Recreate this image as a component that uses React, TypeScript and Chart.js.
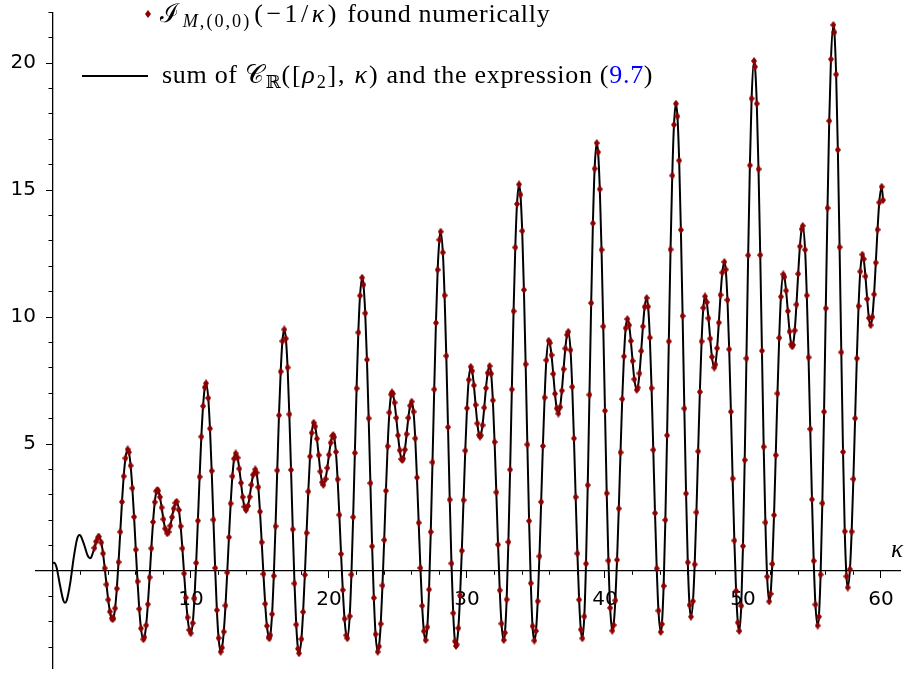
import React, { useEffect, useRef } from "react";
import { Chart, registerables } from "chart.js";

Chart.register(...registerables);

// Numerically found values, read on a kappa grid 3.00, 3.25, ..., 60.00
const KAPPA_START = 3;
const KAPPA_STEP = 0.25;
const numericValues = [
  0.91, 1.32, 1.12, 0.11, -1.13, -1.86, -1.47, 0.35, // 3.00 - 4.75
  2.72, 4.44, 4.68, 3.26, 0.84, -1.49, -2.66, -2.14, // 5.00 - 6.75
  -0.25, 1.93, 3.14, 2.91, 2.04, 1.49, 1.78, 2.46, // 7.00 - 8.75
  2.71, 1.76, -0.1, -1.83, -2.45, -1.08, 1.98, 5.29, // 9.00 - 10.75
  7.23, 6.81, 3.94, 0.12, -2.64, -3.02, -1.36, 1.33, // 11.00 - 12.75
  3.73, 4.63, 4.03, 2.91, 2.4, 2.92, 3.79, 3.87, // 13.00 - 14.75
  2.34, -0.12, -2.16, -2.53, -0.19, 3.96, 7.85, 9.51, // 15.00 - 16.75
  8.01, 3.98, -0.49, -3.06, -2.68, -0.15, 3.13, 5.44, // 17.00 - 18.75
  5.69, 4.56, 3.49, 3.62, 4.58, 5.31, 4.69, 2.21, // 19.00 - 20.75
  -0.75, -2.53, -1.78, 2.12, 7.19, 10.84, 11.27, 8.32, // 21.00 - 22.75
  3.46, -1.06, -3.15, -2.08, 1.22, 4.91, 6.95, 6.63, // 23.00 - 24.75
  5.34, 4.41, 4.78, 6.03, 6.67, 5.22, 1.9, -1.37, // 25.00 - 26.75
  -2.72, -0.73, 4.28, 9.77, 13.04, 12.54, 8.47, 2.81, // 27.00 - 28.75
  -1.66, -2.89, -0.96, 2.79, 6.41, 8.03, 7.31, 5.81, // 29.00 - 30.75
  5.34, 6.43, 7.8, 7.77, 5.08, 1.04, -2.07, -2.43, // 31.00 - 32.75
  1.14, 7.15, 12.74, 15.2, 13.39, 8.14, 1.97, -2.17, // 33.00 - 34.75
  -2.36, 0.58, 4.92, 8.3, 8.98, 7.76, 6.4, 6.45, // 35.00 - 36.75
  7.95, 9.3, 8.7, 5.22, 0.69, -2.31, -1.79, 3.38, // 37.00 - 38.75
  10.55, 15.84, 16.49, 12.65, 6.31, 0.41, -2.35, -1.16, // 39.00 - 40.75
  2.46, 6.77, 9.56, 9.68, 8.27, 7.17, 7.78, 9.63, // 41.00 - 42.75
  10.74, 9.19, 4.77, 0.1, -2.35, -0.59, 5.34, 12.66, // 43.00 - 44.75
  17.57, 17.9, 13.43, 6.4, 0.34, -1.8, 0.26, 4.71, // 45.00 - 46.75
  9.04, 10.81, 9.95, 8.43, 8.13, 9.78, 11.75, 11.87, // 47.00 - 48.75
  8.73, 3.64, -0.78, -2.36, 0.98, 8.37, 15.97, 19.97, // 49.00 - 50.75
  18.4, 12.44, 4.89, -0.22, -0.9, 2.2, 6.99, 10.8, // 51.00 - 52.75
  11.58, 10.23, 8.92, 9.47, 11.7, 13.46, 12.65, 8.41, // 53.00 - 54.75
  2.82, -1.32, -1.8, 2.67, 10.34, 17.72, 21.38, 19.55, // 55.00 - 56.75
  12.75, 4.69, -0.21, 0.07, 3.62, 8.37, 11.79, 12.28, // 57.00 - 58.75
  10.71, 9.68, 10.89, 13.44, 15.08, // 59.00 - 60.00
];

// Numerically found values in between: kappa = 3.125, 3.375, ..., 59.875
const MID_START = 3.125;
const numericValuesMid = [
  1.16, 1.33, 0.69, -0.53, // 3.x
  -1.6, -1.86, -0.69, 1.54, // 4.x
  3.73, 4.77, 4.15, 2.13, // 5.x
  -0.41, -2.26, -2.61, -1.31, // 6.x
  0.89, 2.71, 3.16, 2.5, // 7.x
  1.67, 1.54, 2.12, 2.68, // 8.x
  2.4, 0.89, -1.05, -2.32, // 9.x
  -2.05, 0.32, 3.71, 6.49, // 10.x
  7.36, 5.61, 2.02, -1.54, // 11.x
  -3.17, -2.39, -0.06, 2.66, // 12.x
  4.42, 4.46, 3.47, 2.53, // 13.x
  2.56, 3.39, 3.99, 3.3, // 14.x
  1.13, -1.29, -2.6, -1.7, // 15.x
  1.76, 6.13, 9.05, 9.15, // 16.x
  6.17, 1.64, -2.11, -3.2, // 17.x
  -1.61, 1.5, 4.51, 5.84, // 18.x
  5.21, 3.92, 3.4, 4.06, // 19.x
  5.05, 5.27, 3.61, 0.67, // 20.x
  -1.88, -2.59, -0.14, 4.65, // 21.x
  9.39, 11.53, 10.15, 6.01, // 22.x
  0.97, -2.49, -2.97, -0.57, // 23.x
  3.16, 6.24, 6.98, 6.03, // 24.x
  4.75, 4.42, 5.39, 6.51, // 25.x
  6.27, 3.68, 0.12, -2.37, // 26.x
  -2.21, 1.54, 7.15, 11.86, // 27.x
  13.31, 10.85, 5.66, 0.3, // 28.x
  -2.77, -2.25, 0.8, 4.74, // 29.x
  7.53, 7.88, 6.54, 5.35, // 30.x
  5.74, 7.2, 8.07, 6.72, // 31.x
  3.1, -0.76, -2.69, -1.12, // 32.x
  3.99, 10.23, 14.45, 14.82, // 33.x
  11.07, 4.98, -0.48, -2.74, // 34.x
  -1.19, 2.72, 6.83, 9.01, // 35.x
  8.5, 6.98, 6.2, 7.1, // 36.x
  8.76, 9.38, 7.25, 2.91, // 37.x
  -1.13, -2.64, 0.29, 6.94, // 38.x
  13.69, 16.83, 15.03, 9.63, // 39.x
  3.06, -1.45, -2.13, 0.44, // 40.x
  4.67, 8.45, 9.92, 9.06, // 41.x
  7.55, 7.22, 8.66, 10.4, // 42.x
  10.41, 7.2, 2.28, -1.56, // 43.x
  -2.09, 2.01, 9.04, 15.57, // 44.x
  18.39, 16.16, 10.04, 3.05, // 45.x
  -1.34, -1.19, 2.31, 7.05, // 46.x
  10.36, 10.58, 9.15, 8.04, // 47.x
  8.77, 10.87, 12.16, 10.67, // 48.x
  6.27, 1.2, -2.03, -1.37, // 49.x
  4.37, 12.43, 18.6, 19.85, // 50.x
  15.82, 8.67, 1.91, -1.18, // 51.x
  0.28, 4.56, 9.18, 11.62, // 52.x
  11.04, 9.43, 8.9, 10.49, // 53.x
  12.78, 13.53, 10.85, 5.59, // 54.x
  0.4, -2.1, -0.14, 6.27, // 55.x
  14.29, 20.15, 21.21, 16.58, // 56.x
  8.61, 1.56, -0.61, 1.55, // 57.x
  6.01, 10.43, 12.45, 11.6, // 58.x
  9.96, 10.0, 12.14, 14.51, // 59.x
];

// Peaks, dips and troughs
const extremaKappa = [
  3.33, 4.32, 5.41, 6.55, 7.56, 8.28, 8.96, 9.98, 11.09, 12.15, 13.24, 13.99,
  14.66, 15.68, 16.76, 17.83, 18.89, 19.59, 20.31, 21.33, 22.4, 23.53, 24.56,
  25.31, 25.99, 27.0, 28.09, 29.2, 30.27, 30.94, 31.64, 32.66, 33.77, 34.88,
  35.92, 36.62, 37.34, 38.36, 39.4, 40.53, 41.62, 42.3, 43.02, 44.04, 45.14,
  46.23, 47.25, 47.92, 48.65, 49.73, 50.8, 51.9, 52.92, 53.57, 54.33, 55.41,
  56.55, 57.59, 58.65, 59.25, 60.05,
];
const extremaValues = [
  1.35, -1.9, 4.79, -2.69, 3.19, 1.48, 2.73, -2.45, 7.39, -3.18, 4.63, 2.4,
  4.0, -2.65, 9.51, -3.24, 5.84, 3.39, 5.35, -2.65, 11.55, -3.18, 7.03,
  4.37, 6.67, -2.72, 13.36, -2.95, 8.04, 5.29, 8.07, -2.72, 15.22, -2.74,
  9.07, 6.2, 9.42, -2.65, 16.85, -2.35, 9.92, 7.13, 10.75, -2.4, 18.4,
  -1.8, 10.81, 8.01, 12.17, -2.36, 20.08, -1.2, 11.68, 8.84, 13.59, -2.15,
  21.5, -0.65, 12.46, 9.68, 15.13,
];

// last sample after the final peak
const tailKappa = [60.15];
const tailValues = [14.6];

// start of the black curve (before the numerical points begin)
const curveStartKappa = [0, 0.08, 0.25, 0.5, 0.75, 0.87, 1.0, 1.25, 1.5, 1.75, 1.91, 2.0, 2.25, 2.5, 2.68, 2.75];
const curveStartValues = [0.31, 0.33, 0.16, -0.54, -1.16, -1.25, -1.15, -0.47, 0.52, 1.27, 1.42, 1.39, 1.05, 0.62, 0.5, 0.52];

// axis ticks
const xMinorTicks = [2, 4, 6, 8, 12, 14, 16, 18, 22, 24, 26, 28, 32, 34, 36, 38, 42, 44, 46, 48, 52, 54, 56, 58];
const xMajorTicks = [10, 20, 30, 40, 50, 60];
const yMinorTicks = [-3, -2, -1, 1, 2, 3, 4, 6, 7, 8, 9, 11, 12, 13, 14, 16, 17, 18, 19, 21, 22];
const yMajorTicks = [5, 10, 15, 20];

const X_MIN = -1.25;
const X_MAX = 61.4;
const Y_MIN = -3.85;
const Y_MAX = 22;

const MARKER_COLOR = "#8b0000";
const TICK_FONT = { family: '"DejaVu Sans", sans-serif', size: 20 };
const SERIF = '"Liberation Serif", "DejaVu Serif", serif';
const Y_LABEL_GAP = 17;

type Pt = { x: number; y: number };

const zeroPad = (s: any) => {
  s.paddingLeft = 0;
  s.paddingRight = 0;
  s.paddingTop = 0;
  s.paddingBottom = 0;
};

export default function App() {
  const ref = useRef<HTMLCanvasElement>(null);

  useEffect(() => {
    const canvas = ref.current;
    if (!canvas) return;

    const extPts: Pt[] = extremaKappa.map((k, i) => ({ x: k, y: extremaValues[i] }));
    const gridPts: Pt[] = numericValues.map((v, i) => ({ x: KAPPA_START + i * KAPPA_STEP, y: v }));
    const midPts: Pt[] = numericValuesMid.map((v, i) => ({ x: MID_START + i * KAPPA_STEP, y: v }));
    const tailPts: Pt[] = tailKappa.map((k, i) => ({ x: k, y: tailValues[i] }));
    const numericPts: Pt[] = gridPts
      .concat(midPts)
      .filter((p) => !extPts.some((e) => Math.abs(e.x - p.x) < 0.05))
      .concat(extPts, tailPts)
      .sort((a, b) => a.x - b.x);
    const startPts: Pt[] = curveStartKappa.map((k, i) => ({ x: k, y: curveStartValues[i] }));
    const curvePts: Pt[] = startPts.concat(numericPts);

    const diamond = document.createElement("canvas");
    diamond.width = 6;
    diamond.height = 8;
    const dctx = diamond.getContext("2d");
    if (dctx) {
      dctx.fillStyle = MARKER_COLOR;
      dctx.beginPath();
      dctx.moveTo(3, 0);
      dctx.lineTo(6, 4);
      dctx.lineTo(3, 8);
      dctx.lineTo(0, 4);
      dctx.closePath();
      dctx.fill();
    }

    const axisGrid = (len: number) => ({
      display: true,
      drawOnChartArea: false,
      drawTicks: true,
      tickLength: len,
      tickWidth: 1,
      tickColor: "#000",
      color: "#000",
    });

    const chart = new Chart(canvas, {
      type: "scatter",
      data: {
        datasets: [
          {
            label: "numeric",
            data: numericPts,
            xAxisID: "x",
            yAxisID: "y",
            showLine: false,
            pointStyle: diamond as any,
            pointRadius: 3,
            pointHoverRadius: 3,
            backgroundColor: MARKER_COLOR,
            borderColor: MARKER_COLOR,
          },
          {
            label: "curve",
            data: curvePts,
            xAxisID: "x",
            yAxisID: "y",
            showLine: true,
            pointRadius: 0,
            pointHoverRadius: 0,
            borderColor: "#000",
            borderWidth: 2,
            cubicInterpolationMode: "monotone",
            fill: false,
          },
        ],
      },
      options: {
        animation: false,
        responsive: false,
        devicePixelRatio: 1,
        events: [],
        layout: { padding: { left: 35.75, right: 8.7, top: 12.2, bottom: 4.2 } },
        plugins: { legend: { display: false }, tooltip: { enabled: false } },
        scales: {
          x: {
            type: "linear",
            axis: "x",
            min: X_MIN,
            max: X_MAX,
            position: { y: 0 } as any,
            afterBuildTicks: (s: any) => {
              s.ticks = xMinorTicks.map((v) => ({ value: v }));
            },
            afterFit: zeroPad,
            grid: axisGrid(3.5),
            border: { display: true, color: "#000", width: 1.3 },
            ticks: { display: false },
          },
          x2: {
            type: "linear",
            axis: "x",
            min: X_MIN,
            max: X_MAX,
            position: { y: 0 } as any,
            afterBuildTicks: (s: any) => {
              s.ticks = xMajorTicks.map((v) => ({ value: v }));
            },
            afterFit: zeroPad,
            grid: axisGrid(7),
            border: { display: false },
            ticks: {
              display: true,
              autoSkip: false,
              maxRotation: 0,
              color: "#000",
              font: TICK_FONT,
              padding: 10,
              callback: (v: any) => String(v),
            },
          },
          y: {
            type: "linear",
            axis: "y",
            min: Y_MIN,
            max: Y_MAX,
            position: { x: 0 } as any,
            afterBuildTicks: (s: any) => {
              s.ticks = yMinorTicks.map((v) => ({ value: v }));
            },
            afterFit: zeroPad,
            grid: axisGrid(3.5),
            border: { display: true, color: "#000", width: 1.3 },
            ticks: { display: false },
          },
          y2: {
            type: "linear",
            axis: "y",
            min: Y_MIN,
            max: Y_MAX,
            position: { x: 0 } as any,
            afterBuildTicks: (s: any) => {
              s.ticks = yMajorTicks.map((v) => ({ value: v }));
            },
            afterFit: zeroPad,
            afterUpdate: (s: any) => {
              if (s.__shifted) return;
              s.__shifted = true;
              const drawLabels = s.drawLabels;
              s.drawLabels = function (area: any) {
                const ctx = this.ctx;
                ctx.save();
                ctx.translate(-Y_LABEL_GAP, 0);
                drawLabels.call(this, area);
                ctx.restore();
              };
            },
            grid: axisGrid(7),
            border: { display: false },
            ticks: {
              display: true,
              autoSkip: false,
              color: "#000",
              font: TICK_FONT,
              padding: 0,
              callback: (v: any) => String(v),
            },
          },
        },
      } as any,
    });

    return () => chart.destroy();
  }, []);

  const sub: React.CSSProperties = { fontSize: "70%", verticalAlign: "-0.3em", lineHeight: 0 };
  const legendText: React.CSSProperties = {
    position: "absolute",
    fontFamily: SERIF,
    fontSize: 26,
    lineHeight: "26px",
    letterSpacing: "0.7px",
    whiteSpace: "nowrap",
    color: "#000",
  };

  return (
    <div style={{ position: "absolute", left: 0, top: 0, width: 909, height: 673, background: "#fff", overflow: "hidden" }}>
      <canvas ref={ref} width={909} height={673} style={{ position: "absolute", left: 0, top: 0, width: 909, height: 673 }} />
      {/* legend */}
      <svg width={8} height={10} style={{ position: "absolute", left: 144, top: 9 }}>
        <path d="M4 1 L7 5 L4 9 L1 5 Z" fill={MARKER_COLOR} />
      </svg>
      <div style={{ ...legendText, left: 160, top: 1 }}>
        <span style={{ marginRight: 3 }}>ℐ</span>
        <sub style={{ ...sub, letterSpacing: "2px" }}>
          <i>M</i>,(0,0)
        </sub>
        <span style={{ letterSpacing: "3.5px", marginLeft: 3 }}>
          (−1/<i>κ</i>)
        </span>{" "}
        found numerically
      </div>
      <div style={{ position: "absolute", left: 82, top: 75, width: 66, height: 2, background: "#000" }} />
      <div style={{ ...legendText, left: 162, top: 62 }}>
        sum of 𝒞<sub style={{ ...sub, marginLeft: 1 }}>ℝ</sub>
        <span style={{ letterSpacing: "1.8px" }}>
          ([<i>ρ</i>
          <sub style={sub}>2</sub>], <i>κ</i>)
        </span>{" "}
        and the expression (<span style={{ color: "#0000ff" }}>9.7</span>)
      </div>
      {/* axis label */}
      <div
        style={{
          position: "absolute",
          left: 891,
          top: 536,
          fontFamily: SERIF,
          fontSize: 25,
          fontStyle: "italic",
          lineHeight: "25px",
          color: "#000",
        }}
      >
        κ
      </div>
    </div>
  );
}
